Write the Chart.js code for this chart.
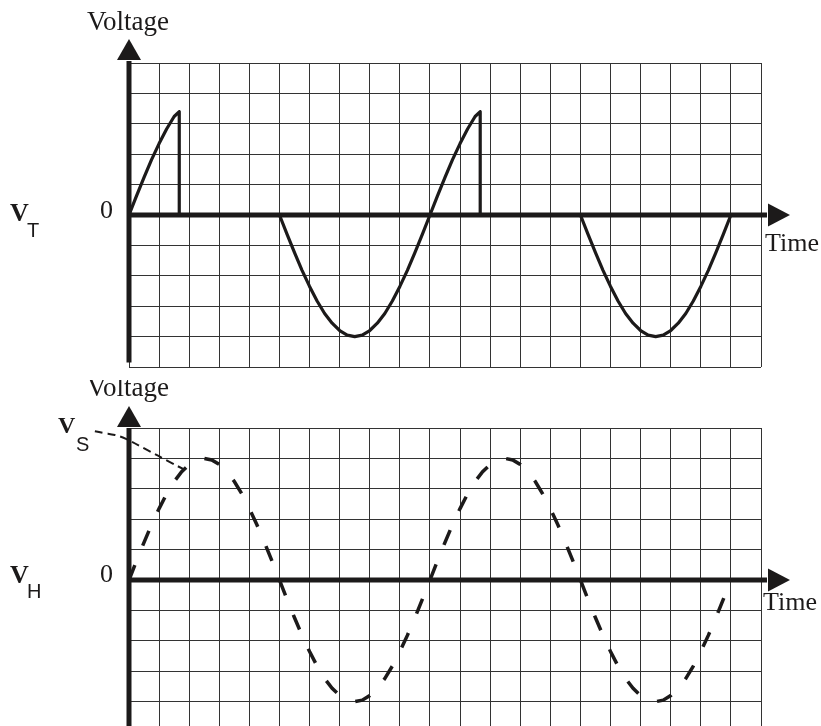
<!DOCTYPE html>
<html>
<head>
<meta charset="utf-8">
<script src="https://cdn.jsdelivr.net/npm/chart.js@4/dist/chart.umd.min.js"></script>
<style>
  html, body { margin: 0; padding: 0; background: #fff; width: 821px; height: 726px; overflow: hidden; }
  .panel { position: absolute; left: 0; width: 821px; }
  canvas { display: block; }
</style>
</head>
<body>
<div class="panel" style="top:0;height:380px"><canvas id="vtChart" width="821" height="380"></canvas></div>
<div class="panel" style="top:380px;height:346px"><canvas id="vhChart" width="821" height="346"></canvas></div>
<script>
// ---------------- DATA (grid units: 1 column of time, 1 row of voltage) ----------------
const timeRange = [0, 21];
const vtVoltRange = [-5, 5];
const vhVoltRange = [-4.8, 5];

// V_T : solid trace (upper panel)
const vtTime = [
  0, 0.25, 0.5, 0.75, 1, 1.25, 1.5, 1.67, 1.67, 5,
  5.25, 5.5, 5.75, 6, 6.25, 6.5, 6.75, 7, 7.25, 7.5, 7.75, 8, 8.25, 8.5, 8.75, 9, 9.25, 9.5, 9.75, 10,
  10.25, 10.5, 10.75, 11, 11.25, 11.5, 11.67, 11.67, 15,
  15.25, 15.5, 15.75, 16, 16.25, 16.5, 16.75, 17, 17.25, 17.5, 17.75, 18, 18.25, 18.5, 18.75, 19, 19.25, 19.5, 19.75, 20
];
const vtVolts = [
  0, 0.63, 1.24, 1.82, 2.35, 2.83, 3.24, 3.4, 0, 0,
  -0.63, -1.24, -1.82, -2.35, -2.83, -3.24, -3.56, -3.8, -3.95, -4, -3.95, -3.8, -3.56, -3.24, -2.83, -2.35, -1.82, -1.24, -0.63, 0,
  0.63, 1.24, 1.82, 2.35, 2.83, 3.24, 3.4, 0, 0,
  -0.63, -1.24, -1.82, -2.35, -2.83, -3.24, -3.56, -3.8, -3.95, -4, -3.95, -3.8, -3.56, -3.24, -2.83, -2.35, -1.82, -1.24, -0.63, 0
];

// V_H : dashed trace (lower panel)
const vhTime = [
  0, 0.25, 0.5, 0.75, 1, 1.25, 1.5, 1.75, 2, 2.25, 2.5, 2.75, 3, 3.25, 3.5, 3.75, 4, 4.25, 4.5, 4.75,
  5, 5.25, 5.5, 5.75, 6, 6.25, 6.5, 6.75, 7, 7.25, 7.5, 7.75, 8, 8.25, 8.5, 8.75, 9, 9.25, 9.5, 9.75,
  10, 10.25, 10.5, 10.75, 11, 11.25, 11.5, 11.75, 12, 12.25, 12.5, 12.75, 13, 13.25, 13.5, 13.75, 14, 14.25, 14.5, 14.75,
  15, 15.25, 15.5, 15.75, 16, 16.25, 16.5, 16.75, 17, 17.25, 17.5, 17.75, 18, 18.25, 18.5, 18.75, 19, 19.25, 19.5, 19.75, 20
];
const vhVolts = [
  0, 0.63, 1.24, 1.82, 2.35, 2.83, 3.24, 3.56, 3.8, 3.95, 4, 3.95, 3.8, 3.56, 3.24, 2.83, 2.35, 1.82, 1.24, 0.63,
  0, -0.63, -1.24, -1.82, -2.35, -2.83, -3.24, -3.56, -3.8, -3.95, -4, -3.95, -3.8, -3.56, -3.24, -2.83, -2.35, -1.82, -1.24, -0.63,
  0, 0.63, 1.24, 1.82, 2.35, 2.83, 3.24, 3.56, 3.8, 3.95, 4, 3.95, 3.8, 3.56, 3.24, 2.83, 2.35, 1.82, 1.24, 0.63,
  0, -0.63, -1.24, -1.82, -2.35, -2.83, -3.24, -3.56, -3.8, -3.95, -4, -3.95, -3.8, -3.56, -3.24, -2.83, -2.35, -1.82, -1.24, -0.63, 0
];

// V_S leader line (from the curve back to the label)
const vsLeadTime  = [1.86, 1.36, 0.6, -0.1, -0.47, -0.86, -1.3];
const vsLeadVolts = [3.62, 3.88, 4.28, 4.64, 4.77, 4.84, 4.93];

// Texts
const yAxisTitle = 'Voltage';
const xAxisTitle = 'Time';
const zeroLabel = '0';
const vtName = ['V', 'T'];
const vhName = ['V', 'H'];
const vsName = ['V', 'S'];

// ---------------- helpers ----------------
const pts = (xs, ys) => xs.map((x, i) => ({ x, y: ys[i] }));
const INK = '#1c1a1a';
const GRID = '#333333';
const SERIF = '"Liberation Serif", "Times New Roman", Times, serif';
const SANS = '"Liberation Sans", Arial, sans-serif';

const axesArrows = {
  id: 'axesArrows',
  beforeDatasetsDraw(chart, args, o) {
    const { ctx, chartArea, scales: { x, y } } = chart;
    const x0 = x.getPixelForValue(0);
    const y0 = y.getPixelForValue(0);
    ctx.save();
    ctx.strokeStyle = INK; ctx.fillStyle = INK; ctx.lineWidth = 5; ctx.lineCap = 'butt';
    const yBottom = o.yAxisBottom != null ? y.getPixelForValue(o.yAxisBottom) : chart.height;
    const yBase = chartArea.top - o.arrowGap;
    ctx.beginPath(); ctx.moveTo(x0, yBottom); ctx.lineTo(x0, yBase + 1); ctx.stroke();
    ctx.beginPath(); ctx.moveTo(x0 - 12, yBase); ctx.lineTo(x0 + 12, yBase); ctx.lineTo(x0, yBase - 21); ctx.closePath(); ctx.fill();
    const xBase = chartArea.right + 7;
    ctx.beginPath(); ctx.moveTo(x0, y0); ctx.lineTo(xBase - 1, y0); ctx.stroke();
    ctx.beginPath(); ctx.moveTo(xBase, y0 - 11.5); ctx.lineTo(xBase, y0 + 11.5); ctx.lineTo(xBase + 22, y0); ctx.closePath(); ctx.fill();
    ctx.restore();
  }
};

const textLabels = {
  id: 'textLabels',
  afterDraw(chart, args, o) {
    const ctx = chart.ctx;
    ctx.save();
    ctx.fillStyle = INK; ctx.textBaseline = 'alphabetic'; ctx.textAlign = 'left';
    for (const l of o.items) {
      ctx.font = l.font;
      ctx.fillText(l.text, l.x, l.y - o.offsetY);
    }
    ctx.restore();
  }
};

function scales(yRange) {
  return {
    x: {
      type: 'linear', min: timeRange[0], max: timeRange[1],
      ticks: { display: false, stepSize: 1 },
      grid: { color: GRID, lineWidth: 1, drawTicks: false },
      border: { display: false }
    },
    y: {
      type: 'linear', min: yRange[0], max: yRange[1],
      ticks: { display: false, stepSize: 1, includeBounds: false },
      grid: { color: GRID, lineWidth: 1, drawTicks: false },
      border: { display: false }
    }
  };
}

const common = {
  responsive: false, animation: false, devicePixelRatio: 1, events: [],
  plugins: { legend: { display: false }, tooltip: { enabled: false } }
};

function build() {
  new Chart(document.getElementById('vtChart'), {
    type: 'line',
    data: {
      datasets: [{
        label: 'V_T', data: pts(vtTime, vtVolts),
        borderColor: INK, borderWidth: 3.2, pointRadius: 0, tension: 0,
        borderJoinStyle: 'round', fill: false
      }]
    },
    options: Object.assign({}, common, {
      layout: { padding: { left: 129, top: 63, right: 60, bottom: 13 } },
      scales: scales(vtVoltRange),
      plugins: Object.assign({}, common.plugins, {
        axesArrows: { yAxisBottom: -4.85, arrowGap: 3 },
        textLabels: {
          offsetY: 0,
          items: [
            { text: yAxisTitle, x: 87, y: 30, font: '27px ' + SERIF },
            { text: zeroLabel, x: 100, y: 218, font: '26px ' + SERIF },
            { text: xAxisTitle, x: 765, y: 251, font: '26px ' + SERIF },
            { text: vtName[0], x: 10, y: 221, font: 'bold 26px ' + SERIF },
            { text: vtName[1], x: 27, y: 237, font: '20px ' + SANS }
          ]
        }
      })
    }),
    plugins: [axesArrows, textLabels]
  });

  new Chart(document.getElementById('vhChart'), {
    type: 'line',
    data: {
      datasets: [{
        label: 'V_H', data: pts(vhTime, vhVolts),
        borderColor: INK, borderWidth: 3.5, pointRadius: 0, tension: 0,
        borderDash: [16, 21], borderCapStyle: 'butt', fill: false
      }, {
        label: 'V_S', data: pts(vsLeadTime, vsLeadVolts),
        borderColor: INK, borderWidth: 2, pointRadius: 0, tension: 0.4,
        borderDash: [8, 5], borderCapStyle: 'butt', fill: false, clip: false
      }]
    },
    options: Object.assign({}, common, {
      layout: { padding: { left: 129, top: 48, right: 60, bottom: 0 } },
      scales: scales(vhVoltRange),
      plugins: Object.assign({}, common.plugins, {
        axesArrows: { yAxisBottom: null, arrowGap: 1 },
        textLabels: {
          offsetY: 380,
          items: [
            { text: yAxisTitle, x: 87, y: 396, font: '27px ' + SERIF },
            { text: zeroLabel, x: 100, y: 582, font: '26px ' + SERIF },
            { text: xAxisTitle, x: 763, y: 610, font: '26px ' + SERIF },
            { text: vhName[0], x: 10, y: 583, font: 'bold 26px ' + SERIF },
            { text: vhName[1], x: 27, y: 598, font: '20px ' + SANS },
            { text: vsName[0], x: 58, y: 433, font: 'bold 24px ' + SERIF },
            { text: vsName[1], x: 76, y: 451, font: '20px ' + SANS }
          ]
        }
      })
    }),
    plugins: [axesArrows, textLabels]
  });
}

if (document.fonts && document.fonts.load) {
  Promise.all([
    document.fonts.load('27px "Liberation Serif"'),
    document.fonts.load('bold 26px "Liberation Serif"'),
    document.fonts.load('20px "Liberation Sans"')
  ]).then(build, build);
} else {
  build();
}
</script>
</body>
</html>
